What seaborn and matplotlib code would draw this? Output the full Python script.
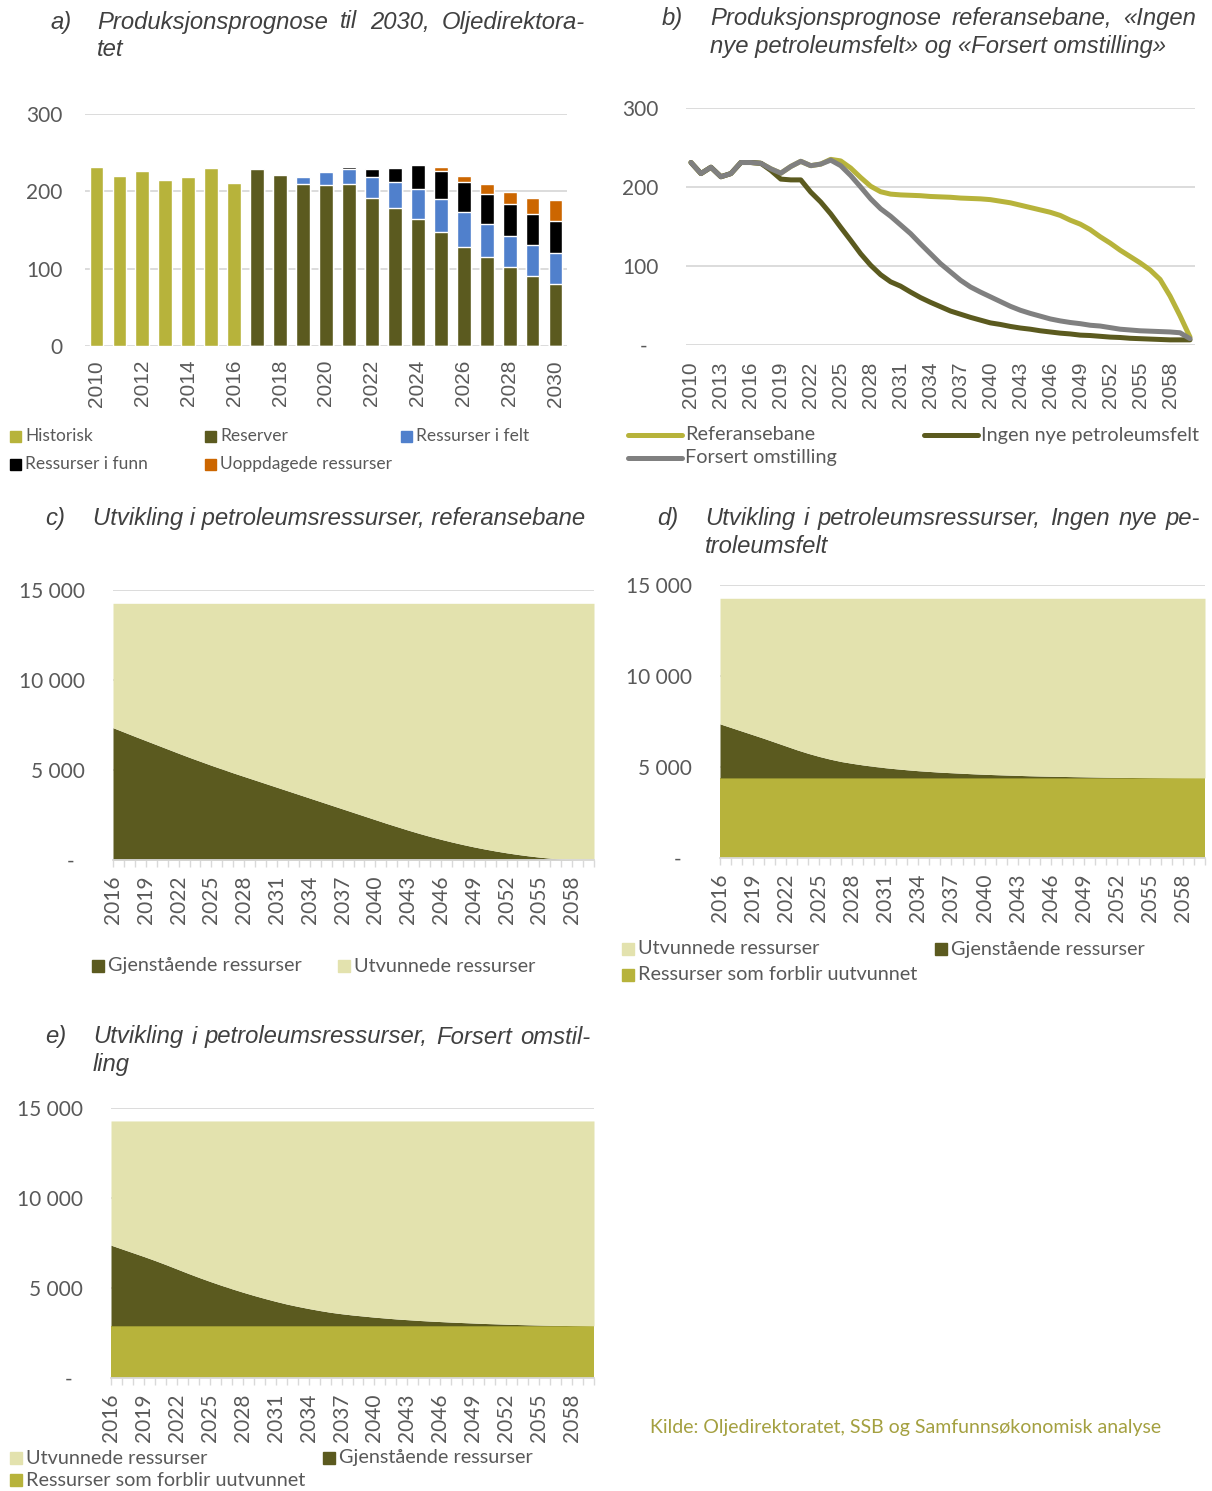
import numpy as np
import pandas as pd
import matplotlib
matplotlib.use("Agg")
import matplotlib.pyplot as plt
import seaborn as sns
from matplotlib.patches import Rectangle
from matplotlib.lines import Line2D

# ---- data ----
# a) produksjonsprognose til 2030
aar_a = list(range(2010, 2031))
historisk = [231.5, 219.5, 226, 215, 218, 230, 211, 0, 0, 0, 0, 0, 0, 0, 0, 0, 0, 0, 0, 0, 0]
reserver = [0, 0, 0, 0, 0, 0, 0, 229, 220.5, 210, 208, 209, 192, 178.5, 164.5, 147, 128.5, 114.5, 102, 91, 80.5]
felt = [0, 0, 0, 0, 0, 0, 0, 0, 2.5, 8, 16.5, 19.5, 27, 33.5, 38.5, 43.5, 45, 43, 40.5, 40, 39.5]
funn = [0, 0, 0, 0, 0, 0, 0, 0, 0, 0, 1, 3.5, 9.5, 18, 30.5, 35.5, 38, 39.5, 41.5, 40, 41]
uoppdaget = [0, 0, 0, 0, 0, 0, 0, 0, 0, 0, 0, 0, 1, 1, 1.7, 5, 8.6, 13, 15.6, 21, 28]

# b) produksjonsbaner 2010-2060
aar_b = list(range(2010, 2061))
referanse = [231, 217, 225, 213, 217, 231, 231, 230,
             223, 217.5, 226, 232.5, 227, 229, 235, 233, 224, 212, 201, 194, 191, 190, 189.5,
             189, 188, 187.5, 187, 186, 185.5, 185, 184, 182, 180, 177, 174, 171, 168, 164,
             158, 153, 146, 137, 129, 120, 112, 104, 95, 83, 62, 37, 10]
ingen_nye = [231, 217, 225, 213, 217, 231, 231, 230,
             221, 210, 209, 209, 193.5, 181, 166, 149, 132.5, 115.5, 101, 89, 80, 74.5, 67,
             60, 54, 48.5, 43, 39, 35, 31.5, 28, 26, 23.5, 21.5, 20, 18, 16.5, 15,
             14, 12.5, 12, 11, 10, 9.5, 8.5, 8, 7.5, 7, 6.5, 6.5, 6.5]
forsert = [231, 217, 225, 213, 217, 231, 231, 230,
           223, 217.5, 226, 232.5, 227, 229, 234, 227, 214.5, 200, 185, 172.5, 163, 152, 141,
           128, 115.5, 103, 92.5, 82, 73.5, 67, 61, 55, 49, 44, 40, 36.5, 33, 30.5,
           28.5, 27, 25, 24, 22, 20, 19, 18, 17.5, 17, 16.5, 15.5, 8]

# c-e) petroleumsressurser 2016-2060
aar_r = list(range(2016, 2061))
gjenst_c = [7350, 7110, 6870, 6635, 6400, 6165, 5930, 5700, 5480, 5260, 5050, 4840, 4640, 4440, 4240,
            4040, 3840, 3640, 3440, 3240, 3040, 2840, 2640, 2440, 2240, 2040, 1850, 1660, 1480, 1310,
            1150, 1000, 860, 730, 610, 500, 400, 310, 230, 160, 100, 50, 15, 0, 0]
gjenst_d = [2970, 2770, 2570, 2370, 2170, 1960, 1750, 1540, 1350, 1180, 1030, 900, 800, 710, 630,
            560, 500, 445, 395, 355, 315, 285, 255, 225, 200, 178, 158, 140, 120, 105,
            93, 82, 70, 60, 50, 40, 32, 25, 19, 14, 10, 6, 3, 1, 0]
gjenst_e = [4480, 4270, 4060, 3850, 3630, 3400, 3160, 2920, 2690, 2470, 2260, 2060, 1870, 1690, 1520,
            1360, 1210, 1080, 960, 850, 750, 670, 600, 540, 480, 430, 380, 340, 300, 265,
            235, 205, 180, 155, 130, 110, 90, 72, 56, 42, 30, 20, 12, 6, 0]
totalt_c, totalt_d, totalt_e = 14260, 14270, 14280
uutvunnet_d, uutvunnet_e = 4400, 2900

# ---- farger ----
GUL = "#b7b33b"
MORK = "#5b5a1f"
BLA = "#5080cc"
SVART = "#000000"
ORANSJE = "#cc6600"
LYS = "#e3e2ae"
GRA = "#808080"
GRID = "#d9d9d9"
TEKST = "#595959"

sns.set_theme(style="white")
plt.rcParams['font.family'] = ['Lato', 'DejaVu Sans']
ARIAL = ['Liberation Sans', 'DejaVu Sans']

W, H = 1212, 1491
fig = plt.figure(figsize=(W / 100, H / 100), dpi=100)


def akse(x0, y0, x1, y1):
    return fig.add_axes([x0 / W, 1 - y1 / H, (x1 - x0) / W, (y1 - y0) / H])


def stil(ax, ypad):
    for s in ax.spines.values():
        s.set_visible(False)
    ax.yaxis.grid(True, color=GRID, lw=1.3)
    ax.xaxis.grid(False)
    ax.set_axisbelow(True)
    ax.set_xlabel('')
    ax.set_ylabel('')
    ax.tick_params(axis='y', length=0, pad=ypad, labelsize=15, labelcolor=TEKST)


def firkant(x, y, farge, tekst, size=14.3, s=11):
    fig.patches.append(Rectangle((x / W, 1 - (y + s / 2) / H), s / W, s / H,
                                 transform=fig.transFigure, color=farge))
    fig.text((x + s + 4) / W, 1 - y / H, tekst, va='center', ha='left',
             fontsize=size, color=TEKST)


def strek(x, y, farge, tekst, size=14.3):
    fig.lines.append(Line2D([x / W, (x + 54) / W], [1 - y / H, 1 - y / H],
                            transform=fig.transFigure, color=farge, lw=3.6,
                            solid_capstyle='round'))
    fig.text((x + 57) / W, 1 - y / H, tekst, va='center', ha='left',
             fontsize=size, color=TEKST)


renderer = fig.canvas.get_renderer()
TITTEL = dict(fontsize=17.2, style='italic', color='#404040', family=ARIAL, va='center')


def tittel(xb, xt, y, bokstav, linjer, x1=None):
    fig.text(xb / W, 1 - y / H, bokstav, ha='left', **TITTEL)
    for i, linje in enumerate(linjer):
        yy = 1 - (y + i * 27.5) / H
        if x1 is not None and i < len(linjer) - 1:
            # justert linje som i rapporten
            ord_ = linje.split(' ')
            tt = [fig.text(0, yy, o, ha='left', **TITTEL) for o in ord_]
            bredder = [t.get_window_extent(renderer).width for t in tt]
            gap = (x1 - xt - sum(bredder)) / (len(ord_) - 1)
            x = xt
            for t, b in zip(tt, bredder):
                t.set_x(x / W)
                x += b + gap
        else:
            fig.text(xt / W, yy, linje, ha='left', **TITTEL)


# ---- a) ----
ax_a = akse(85, 114, 567, 346)
df_a = pd.DataFrame({'år': aar_a, 'historisk': historisk, 'reserver': reserver,
                     'felt': felt, 'funn': funn, 'uoppdaget': uoppdaget})
df_a['t1'] = df_a['reserver'] + df_a['felt']
df_a['t2'] = df_a['t1'] + df_a['funn']
df_a['t3'] = df_a['t2'] + df_a['uoppdaget']
for kol, farge in [('t3', ORANSJE), ('t2', SVART), ('t1', BLA), ('reserver', MORK), ('historisk', GUL)]:
    sns.barplot(data=df_a, x='år', y=kol, color=farge, width=0.6, saturation=1,
                errorbar=None, ax=ax_a)
ax_a.set_ylim(0, 300)
ax_a.set_xlim(-0.5, len(aar_a) - 0.5)
ax_a.set_yticks([0, 100, 200, 300])
ax_a.set_yticklabels(['0', '100', '200', '300'])
ax_a.set_xticks(range(0, len(aar_a), 2))
ax_a.set_xticklabels([str(a) for a in aar_a[::2]], rotation=90, family=ARIAL)
stil(ax_a, 16)
ax_a.tick_params(axis='x', length=0, pad=10, labelsize=15, labelcolor=TEKST)

tittel(50, 97, 22, 'a)', ['Produksjonsprognose til 2030, Oljedirektora-', 'tet'], x1=585)
firkant(10, 436, GUL, 'Historisk', size=12.5)
firkant(205, 436, MORK, 'Reserver', size=12.5)
firkant(401, 436, BLA, 'Ressurser i felt', size=12.5)
firkant(10, 464, SVART, 'Ressurser i funn', size=12.5)
firkant(205, 464, ORANSJE, 'Uoppdagede ressurser', size=12.5)

# ---- b) ----
ax_b = akse(686, 108, 1195, 345)
df_b = pd.DataFrame({'år': aar_b, 'Referansebane': referanse,
                     'Ingen nye petroleumsfelt': ingen_nye, 'Forsert omstilling': forsert})
df_b = df_b.melt(id_vars='år', var_name='bane', value_name='verdi')
sns.lineplot(data=df_b, x='år', y='verdi', hue='bane',
             hue_order=['Referansebane', 'Ingen nye petroleumsfelt', 'Forsert omstilling'],
             palette=[GUL, MORK, GRA], linewidth=3.6, legend=False, ax=ax_b,
             solid_capstyle='round')
ax_b.set_ylim(0, 300)
ax_b.set_xlim(2009.5, 2060.5)
ax_b.set_yticks([0, 100, 200, 300])
ax_b.set_yticklabels(['-  ', '100', '200', '300'])
ax_b.set_xticks(aar_b[:-1:3])
ax_b.set_xticklabels([str(a) for a in aar_b[:-1:3]], rotation=90, family=ARIAL)
stil(ax_b, 20)
ax_b.tick_params(axis='x', length=0, pad=12, labelsize=15, labelcolor=TEKST)

tittel(662, 710, 19, 'b)', ['Produksjonsprognose referansebane, «Ingen',
                             'nye petroleumsfelt» og «Forsert omstilling»'], x1=1196)
strek(628, 435, GUL, 'Referansebane')
strek(924, 435, MORK, 'Ingen nye petroleumsfelt')
strek(628, 458, GRA, 'Forsert omstilling')


# ---- c-e) ----
def ressurser(ax, gjenst, totalt, uutvunnet=0):
    x = np.array(aar_r)
    g = np.array(gjenst)
    if uutvunnet:
        ax.fill_between(x, 0, uutvunnet, color=GUL, lw=0)
    ax.fill_between(x, uutvunnet, uutvunnet + g, color=MORK, lw=0)
    ax.fill_between(x, uutvunnet + g, totalt, color=LYS, lw=0)
    ax.set_ylim(0, 15000)
    ax.set_xlim(aar_r[0], aar_r[-1])
    ax.set_yticks([0, 5000, 10000, 15000])
    ax.set_yticklabels(['-  ', '5 000', '10 000', '15 000'])
    ax.set_xticks(aar_r[:-1:3])
    ax.set_xticks(aar_r, minor=True)
    ax.set_xticklabels([str(a) for a in aar_r[:-1:3]], rotation=90)
    stil(ax, 20)
    ax.spines['bottom'].set_visible(True)
    ax.spines['bottom'].set_color(GRID)
    ax.spines['bottom'].set_linewidth(1.3)
    ax.tick_params(axis='x', which='both', length=5, width=1, color=GRID, direction='out',
                   pad=6, labelsize=15, labelcolor=TEKST, bottom=True)


ax_c = akse(113, 590, 594, 860)
ressurser(ax_c, gjenst_c, totalt_c)
tittel(45, 93, 518, 'c)', ['Utvikling i petroleumsressurser, referansebane'])
firkant(92, 966, MORK, 'Gjenstående ressurser', s=12)
firkant(338, 966, LYS, 'Utvunnede ressurser', s=12)

ax_d = akse(720, 585, 1205, 858)
ressurser(ax_d, gjenst_d, totalt_d, uutvunnet_d)
tittel(657, 705, 519, 'd)', ['Utvikling i petroleumsressurser, Ingen nye pe-', 'troleumsfelt'], x1=1200)
firkant(622, 949, LYS, 'Utvunnede ressurser', s=12)
firkant(935, 949, MORK, 'Gjenstående ressurser', s=12)
firkant(622, 975, GUL, 'Ressurser som forblir uutvunnet', s=12)

ax_e = akse(111, 1108, 594, 1378)
ressurser(ax_e, gjenst_e, totalt_e, uutvunnet_e)
tittel(45, 93, 1037, 'e)', ['Utvikling i petroleumsressurser, Forsert omstil-', 'ling'], x1=590)
firkant(10, 1458, LYS, 'Utvunnede ressurser', s=12)
firkant(323, 1458, MORK, 'Gjenstående ressurser', s=12)
firkant(10, 1480, GUL, 'Ressurser som forblir uutvunnet', s=12)

fig.text(650 / W, 1 - 1427 / H, 'Kilde: Oljedirektoratet, SSB og Samfunnsøkonomisk analyse',
         fontsize=14, color='#a4a040', va='center', ha='left')

fig.savefig('out.png', dpi=100)
